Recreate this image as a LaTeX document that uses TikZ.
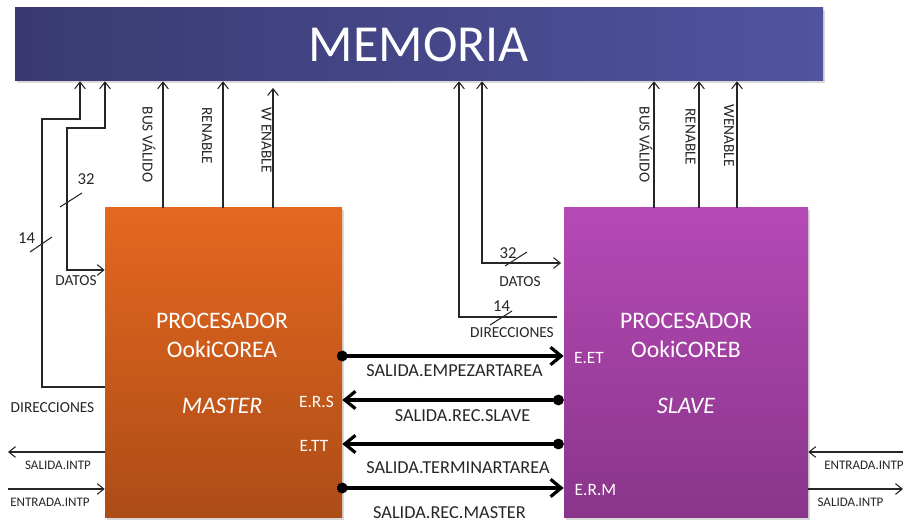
\documentclass[tikz,border=0pt]{standalone}
\usepackage{fontspec}
\setmainfont{Carlito}
\usetikzlibrary{arrows.meta,shadows}

\definecolor{memL}{HTML}{3A3A71}
\definecolor{memR}{HTML}{50539F}
\definecolor{orgT}{HTML}{E4681F}
\definecolor{orgB}{HTML}{AD4C17}
\definecolor{purT}{HTML}{B649B6}
\definecolor{purB}{HTML}{89358A}
\definecolor{ink}{HTML}{262626}

\begin{document}
\begin{tikzpicture}[x=0.75pt, y=-0.75pt, >={Straight Barb[length=5pt,width=8pt]},
  every node/.style={inner sep=0pt, text=ink},
  shade/.style={drop shadow={opacity=0.3, shadow xshift=1.5pt, shadow yshift=-1.5pt}},
  box/.style={shade, minimum width=#1, minimum height=232.5pt},
  wire/.style={draw=ink, line width=0.8pt},
  bus/.style={draw=black, line width=2.4pt, {Circle[length=8pt]}-{Straight Barb[length=8pt,width=13pt]}},
  lbl/.style={font=\fontsize{11.5}{13}\selectfont},
  num/.style={font=\fontsize{12.5}{14}\selectfont},
  tiny/.style={font=\fontsize{9.8}{11}\selectfont},
  sig/.style={font=\fontsize{13.7}{16}\selectfont},
  port/.style={text=white, font=\fontsize{13}{15}\selectfont},
  title/.style={text=white, font=\fontsize{17.75}{20}\selectfont},
  vlbl/.style={lbl, rotate=-90}]
\useasboundingbox (0,0) rectangle (907,523);

\node[shade, minimum width=606pt, minimum height=54.75pt, left color=memL, right color=memR,
  text=white, font=\fontsize{39}{44}\selectfont] (mem) at (419,44.5) {MEMORIA};
\node[box=177.75pt, top color=orgT, bottom color=orgB] (procA) at (223.5,363) {};
\node[box=183pt, top color=purT, bottom color=purB] (procB) at (686,363) {};

\node[title] (procAT) at (222,321) {PROCESADOR};
\node[title] (procAN) at (222,349.5) {OokiCOREA};
\node[title, font=\fontsize{17.75}{20}\selectfont\itshape] (procAR) at (222,406) {MASTER};
\node[title] (procBT) at (686,321) {PROCESADOR};
\node[title] (procBN) at (686,349.5) {OokiCOREB};
\node[title, font=\fontsize{17.75}{20}\selectfont\itshape] (procBR) at (686,406) {SLAVE};

\draw[wire,->] (procA.north -| 163,0) -- (mem.south -| 163,0);
\draw[wire,->] (procA.north -| 223,0) -- (mem.south -| 223,0);
\draw[wire,->,shorten >=5pt] (procA.north -| 273,0) -- (mem.south -| 273,0);
\node[vlbl] (busA) at (149,144.5) {BUS VÁLIDO};
\node[vlbl] (renA) at (207,136) {RENABLE};
\node[vlbl] (wenA) at (266.5,140) {W ENABLE};

\draw[wire,->] (procB.north -| 654,0) -- (mem.south -| 654,0);
\draw[wire,->] (procB.north -| 699,0) -- (mem.south -| 699,0);
\draw[wire,->] (procB.north -| 737,0) -- (mem.south -| 737,0);
\node[vlbl] (busB) at (646,144.5) {BUS VÁLIDO};
\node[vlbl] (renB) at (690.5,137) {RENABLE};
\node[vlbl] (wenB) at (729,135.5) {WENABLE};

\draw[wire,->] (procA.west |- 0,387) -- (42,387) -- (42,119) -- (80,119) -- (mem.south -| 80,0);
\draw[wire,<->] (mem.south -| 105,0) -- (105,128) -- (67,128) -- (67,270) -- (procA.west |- 0,270);
\draw[wire] (30,252) -- (52,237);
\draw[wire] (60,207) -- (82,193);
\node[num] (nDirA) at (26.5,238.5) {14};
\node[num] (nDatA) at (86,179.5) {32};
\node[lbl] (datA) at (76,281) {DATOS};
\node[lbl] (dirA) at (52.5,408) {DIRECCIONES};

\coordinate (dirEnd) at (557,317);
\draw[wire,->] (dirEnd) -- (459,317) -- (mem.south -| 459,0);
\draw[wire,<->,shorten >=2pt] (mem.south -| 482,0) -- (482,263) -- (procB.west |- 0,263);
\draw[wire] (490,325) -- (512,311);
\draw[wire] (505,266) -- (527,252);
\node[num] (nDirB) at (501.5,306) {14};
\node[num] (nDatB) at (508,253) {32};
\node[lbl] (datB) at (520,282) {DATOS};
\node[lbl] (dirB) at (512,333) {DIRECCIONES};

\coordinate (intAo) at (8,452);
\coordinate (intAi) at (8,489);
\coordinate (intBi) at (903,452);
\coordinate (intBo) at (903,489);
\draw[wire,->] (procA.west |- intAo) -- (intAo);
\draw[wire,->] (intAi) -- (procA.west |- intAi);
\draw[wire,->] (intBi) -- (procB.east |- intBi);
\draw[wire,->] (procB.east |- intBo) -- (intBo);
\node[tiny] (salA) at (58,465) {SALIDA.INTP};
\node[tiny] (entA) at (50,502.5) {ENTRADA.INTP};
\node[tiny] (entB) at (864,465) {ENTRADA.INTP};
\node[tiny] (salB) at (850.5,502.5) {SALIDA.INTP};

\coordinate (rET) at (0,356);
\coordinate (rRS) at (0,400);
\coordinate (rTT) at (0,444);
\coordinate (rRM) at (0,488);
\draw[bus,shorten <=-4pt] (procA.east |- rET) -- (procB.west |- rET);
\draw[bus] (procB.west |- rRS) -- (procA.east |- rRS);
\draw[bus] (procB.west |- rTT) -- (procA.east |- rTT);
\draw[bus,shorten <=-4pt] (procA.east |- rRM) -- (procB.west |- rRM);
\node[sig] (sET) at (454.5,371) {SALIDA.EMPEZARTAREA};
\node[sig] (sRS) at (462.5,416) {SALIDA.REC.SLAVE};
\node[sig] (sTT) at (458,467.5) {SALIDA.TERMINARTAREA};
\node[sig] (sRM) at (449.5,512.5) {SALIDA.REC.MASTER};

\node[port] (pET) at (589,358) {E.ET};
\node[port] (pRS) at (316.5,402) {E.R.S};
\node[port] (pTT) at (314,446) {E.TT};
\node[port] (pRM) at (595.5,490.5) {E.R.M};
\end{tikzpicture}
\end{document}
